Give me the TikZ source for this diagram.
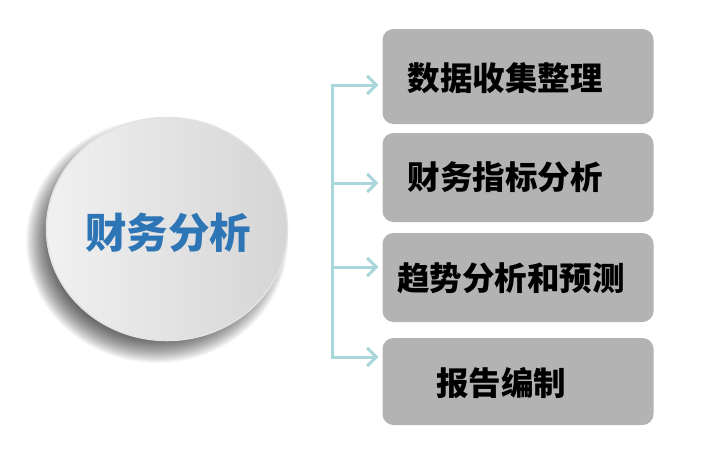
\documentclass[tikz,border=0pt]{standalone}
\usepackage{fontspec}
\newfontfamily\cjk{Noto Sans CJK SC}
\usetikzlibrary{arrows.meta,shapes.geometric}
\definecolor{linecol}{HTML}{A8D6DB}
\definecolor{boxgray}{HTML}{B3B3B3}
\definecolor{titleblue}{HTML}{2E75B6}
\tikzset{
  x=1pt,y=-1pt,
  itembox/.style={draw=none,fill=boxgray,rounded corners=11pt,minimum width=271pt},
  itemtext/.style={font=\cjk\bfseries\fontsize{32.5}{34}\selectfont,text=black,inner sep=0pt},
  conn/.style={draw=linecol,line width=3pt},
  arr/.style={conn,-{Straight Barb[length=9pt,width=18pt,line width=3pt]},shorten >=4pt},
}
\begin{document}
\begin{tikzpicture}
\useasboundingbox (0,0) rectangle (728,459);
\fill[white] (0,0) rectangle (728,459);
% soft shadow of the circle
\foreach \i in {0,...,24}{
  \fill[black,opacity=0.03] (157,241) ellipse [x radius={131-\i}, y radius={122-\i}];
}
% circle
\node[ellipse,minimum width=241pt,minimum height=223pt,inner sep=0pt,fill=white] (hub) at (167,229) {};
\begin{scope}
  \clip (hub.center) ellipse [x radius=120.5, y radius=111.5];
  \shade[left color=white!97!black,right color=black!19,rotate around={45:(hub.center)}]
    ([xshift=-125pt,yshift=-125pt]hub.center) rectangle ([xshift=125pt,yshift=125pt]hub.center);
\end{scope}
\draw[black!11,line width=1.5pt] (hub.center) ellipse [x radius=120.5, y radius=111.5];
\node[font=\cjk\bfseries\fontsize{41.5}{43}\selectfont,text=titleblue,inner sep=0pt] (hubt) at (168,233) {财务分析};
% boxes
\node[itembox,minimum height=95pt] (b1) at (518,76.5) {};
\node[itembox,minimum height=89pt] (b2) at (518,177.5) {};
\node[itembox,minimum height=89pt] (b3) at (518,277.5) {};
\node[itembox,minimum height=87pt] (b4) at (518,381.5) {};
\node[itemtext] (t1) at (505,78) {数据收集整理};
\node[itemtext] (t2) at (505,177) {财务指标分析};
\node[itemtext] (t3) at (511,278) {趋势分析和预测};
\node[itemtext] (t4) at (501,383) {报告编制};
% connectors
\coordinate (a1) at (332,85);
\coordinate (a2) at (332,183);
\coordinate (a3) at (332,267);
\coordinate (a4) at (332,357);
\draw[conn] ([yshift=1.5pt]a1) -- ([yshift=-1.5pt]a4);
\draw[arr] ([xshift=-1.5pt]a1) -- (b1.west |- a1);
\draw[arr] (a2) -- (b2.west |- a2);
\draw[arr] (a3) -- (b3.west |- a3);
\draw[arr] ([xshift=-1.5pt]a4) -- (b4.west |- a4);
\end{tikzpicture}
\end{document}
